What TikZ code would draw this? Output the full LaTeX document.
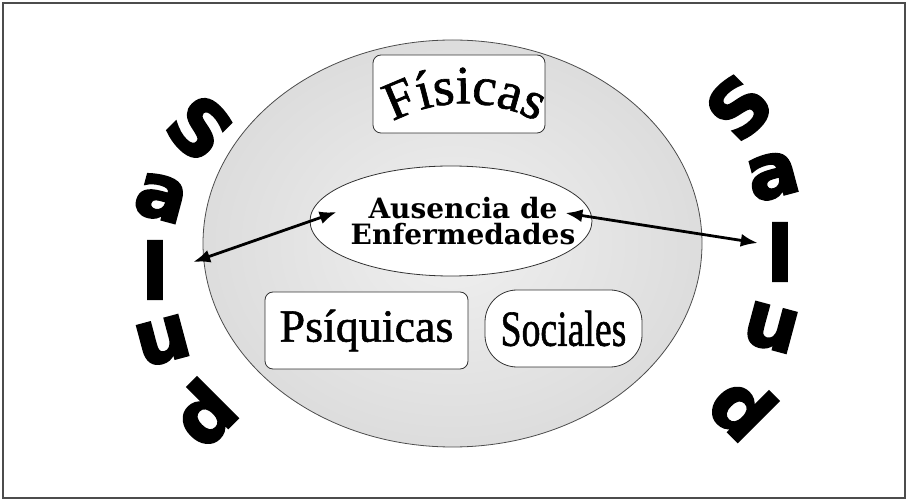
\documentclass[tikz,border=0pt]{standalone}
\usepackage{fontspec}
\setmainfont{Liberation Serif}
\newfontfamily\saludfont[FakeBold=3]{DejaVu Sans Bold}
\newfontfamily\cajafont[FakeBold=1.2]{Liberation Serif}
\newfontfamily\ausfont{DejaVu Serif}
\usetikzlibrary{arrows.meta,shapes.geometric,decorations.text}
\newcommand{\fisicasfont}{\cajafont\fontsize{54}{54}\selectfont}

\begin{document}
\begin{tikzpicture}[x=1pt, y=1pt,
  cajita/.style={draw=black!80, fill=white, line width=0.8pt, rounded corners=8pt, inner sep=0pt},
  letra/.style={font=\saludfont\fontsize{76}{76}\selectfont, inner sep=0pt},
  punta/.tip={Latex[length=17pt,width=13pt]},
  flecha/.style={punta-punta, line width=2.8pt}]
\useasboundingbox (0,0) rectangle (908,501);
\draw[black!70, line width=1.2pt] (3,3) rectangle (905,498);
% Ovalo grande {{{
\draw[draw=black!70, line width=0.8pt, inner color=gray!12, outer color=gray!27]
  (452.5,257.5) ellipse [x radius=249.5, y radius=203.5];
% }}}
% Cajas {{{
\node[cajita, minimum width=172pt, minimum height=78pt] (fisicas) at (459,407) {};
\path[decorate, decoration={text along path, text align=center, text={|\fisicasfont|Físicas}}]
  (394.4,380.1) arc[start angle=118, end angle=62, radius=150];
\node[cajita, minimum width=203pt, minimum height=77pt, font=\cajafont\fontsize{46}{46}\selectfont] (psiquicas) at (366.5,170.5) {Psíquicas};
\node[cajita, rounded corners=32pt, minimum width=157pt, minimum height=77pt] (sociales) at (563.5,172.5)
  {\scalebox{0.82}[1.1]{\cajafont\fontsize{46}{46}\selectfont Sociales}};
\node[ellipse, draw=black!80, fill=white, line width=0.8pt, minimum width=282pt, minimum height=110pt] (aus) at (451,280) {};
\node[align=center, font=\ausfont\bfseries\fontsize{28}{26}\selectfont] (ausTexto) at ([xshift=12pt]aus.center) {Ausencia de\\Enfermedades};
% }}}
% Salud {{{
\foreach \c/\x/\y/\r [count=\i] in {S/200/373/-45, a/161/303/-15, l/155/231/0, u/163/160/15, d/203/88/45}
  \node[letra, rotate=\r] (izq\i) at (\x,\y) {\c};
\foreach \c/\x/\y/\r [count=\i] in {S/739/394/45, a/773/325/15, l/780/249/0, u/771/173/-15, d/743/94/-45}
  \node[letra, rotate=\r] (der\i) at (\x,\y) {\c};
% }}}
\coordinate (ausW) at ([shift={(27pt,9pt)}]aus.west);
\coordinate (ausE) at ([shift={(-27pt,8pt)}]aus.east);
\coordinate (izqP) at ([shift={(25pt,8pt)}]izq3.east);
\coordinate (derP) at ([shift={(-9pt,9pt)}]der3.west);
\draw[flecha] (izqP) -- (ausW);
\draw[flecha] (ausE) -- (derP);
\end{tikzpicture}
\end{document}
